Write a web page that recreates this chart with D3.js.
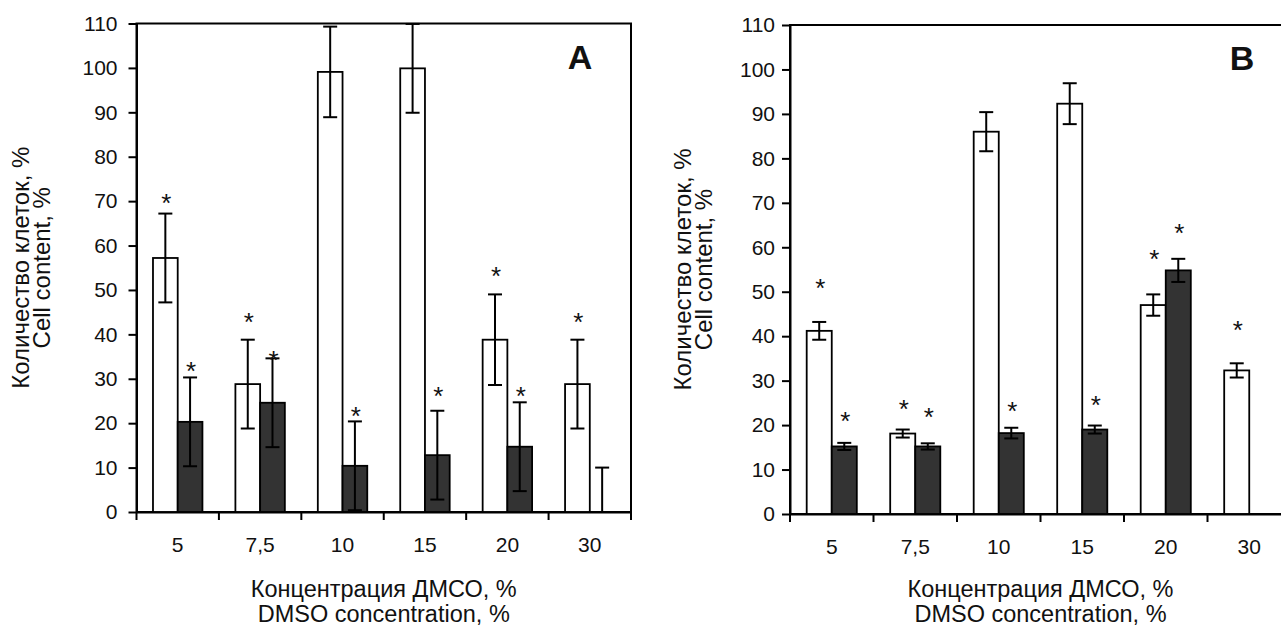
<!DOCTYPE html>
<html>
<head>
<meta charset="utf-8">
<script src="https://cdn.jsdelivr.net/npm/d3@7"></script>
<style>
  body { margin: 0; background: #fff; }
  text { font-family: Arial, "Liberation Sans", sans-serif; fill: #111; }
</style>
</head>
<body>
<script>
// categories (DMSO concentration, %)
var cats = ["5", "7,5", "10", "15", "20", "30"];
var yTicks = [0, 10, 20, 30, 40, 50, 60, 70, 80, 90, 100, 110];

// panel A
var aWhite    = [57.2, 28.8, 99.1, 99.9, 38.8, 28.8];
var aWhiteErr = [10, 10, 10.2, 10, 10.2, 10];
var aDark     = [20.3, 24.6, 10.4, 12.8, 14.7, 0];
var aDarkErr  = [10, 10, 10, 10, 10, 10];
var aWhiteStar = [71, 44.2, null, null, 54.4, 44.2];
var aDarkStar  = [33, 35.6, 23, 27.4, 27.4, null];

// panel B
var bWhite    = [41.2, 18.1, 86.0, 92.3, 47.0, 32.3];
var bWhiteErr = [2.0, 0.9, 4.4, 4.6, 2.4, 1.6];
var bDark     = [15.2, 15.2, 18.2, 19.0, 54.8, 0];
var bDarkErr  = [0.8, 0.7, 1.2, 0.9, 2.6, 0];
var bWhiteStar = [52.2, 25.0, null, null, 58.6, 42.8];
var bDarkStar  = [22.3, 23.2, 24.5, 25.9, 64.6, null];

var svg = d3.select("body").append("svg")
  .attr("width", 1281)
  .attr("height", 626);

function panel(opt) {
  var g = svg.append("g");
  var x = d3.scaleBand().domain(cats).range([opt.left, opt.right]);
  var y = d3.scaleLinear().domain([0, 110]).range([opt.bottom, opt.top]);
  var bw = x.bandwidth() * 0.3;
  var mid = function(c) { return x(c) + x.bandwidth() / 2; };

  // frame
  g.append("rect")
    .attr("x", opt.left).attr("y", y(110))
    .attr("width", opt.right - opt.left).attr("height", y(0) - y(110))
    .attr("fill", "none").attr("stroke", "#000").attr("stroke-width", 2);

  // white bars
  g.selectAll(".w").data(cats).enter().append("rect")
    .attr("x", function(c) { return mid(c) - bw; })
    .attr("y", function(c, i) { return y(opt.white[i]); })
    .attr("width", bw)
    .attr("height", function(c, i) { return y(0) - y(opt.white[i]); })
    .attr("fill", "#fff").attr("stroke", "#000").attr("stroke-width", 1.8);

  // dark bars (skip zero-height ones)
  g.selectAll(".d").data(cats.filter(function(c, i) { return opt.dark[i] > 0; })).enter().append("rect")
    .attr("x", function(c) { return mid(c); })
    .attr("y", function(c) { return y(opt.dark[cats.indexOf(c)]); })
    .attr("width", bw)
    .attr("height", function(c) { return y(0) - y(opt.dark[cats.indexOf(c)]); })
    .attr("fill", "#333").attr("stroke", "#000").attr("stroke-width", 1.8);

  // error bars
  function errs(vals, e, dx) {
    cats.forEach(function(c, i) {
      if (!e[i]) return;
      var cx = mid(c) + dx;
      var lo = Math.max(0, vals[i] - e[i]), hi = vals[i] + e[i];
      g.append("line").attr("x1", cx).attr("x2", cx)
        .attr("y1", y(lo)).attr("y2", y(hi))
        .attr("stroke", "#000").attr("stroke-width", 2);
      [lo, hi].forEach(function(v) {
        g.append("line").attr("x1", cx - 7).attr("x2", cx + 7)
          .attr("y1", y(v)).attr("y2", y(v))
          .attr("stroke", "#000").attr("stroke-width", 2);
      });
    });
  }
  errs(opt.white, opt.whiteErr, -bw / 2);
  errs(opt.dark, opt.darkErr, bw / 2);

  // asterisks
  function stars(s, dx) {
    cats.forEach(function(c, i) {
      if (s[i] == null) return;
      g.append("text")
        .attr("x", mid(c) + dx + 1)
        .attr("y", y(s[i]) + 15)
        .attr("text-anchor", "middle")
        .style("font-size", "26px")
        .text("*");
    });
  }
  stars(opt.whiteStar, -bw / 2);
  stars(opt.darkStar, bw / 2);

  // y axis
  var ya = g.append("g")
    .attr("transform", "translate(" + opt.left + ",0)")
    .call(d3.axisLeft(y).tickValues(yTicks).tickSize(8).tickPadding(opt.pad).tickSizeOuter(0));
  ya.selectAll("path,line").attr("stroke", "#000").attr("stroke-width", 2);
  ya.selectAll("text").style("font-size", "21px").attr("fill", "#111");

  // x axis: labels at band centres, ticks at band edges
  var xa = g.append("g")
    .attr("transform", "translate(0," + y(0) + ")")
    .call(d3.axisBottom(x).tickSize(0).tickPadding(25));
  xa.select(".domain").attr("stroke", "#000").attr("stroke-width", 2);
  xa.selectAll("text").style("font-size", "21px").attr("fill", "#111");
  var edges = cats.map(function(c) { return x(c); }).concat([x.range()[1]]);
  g.selectAll(".xt").data(edges).enter().append("line")
    .attr("x1", function(d) { return d; }).attr("x2", function(d) { return d; })
    .attr("y1", y(0)).attr("y2", y(0) + 8)
    .attr("stroke", "#000").attr("stroke-width", 2);

  // titles
  var cx = (opt.left + opt.right) / 2;
  g.append("text").attr("x", cx).attr("y", 597)
    .attr("text-anchor", "middle").style("font-size", "23.5px").text("Концентрация ДМСО, %");
  g.append("text").attr("x", cx).attr("y", 622)
    .attr("text-anchor", "middle").style("font-size", "23.5px").text("DMSO concentration, %");
  var cy = (opt.top + opt.bottom) / 2;
  g.append("text").attr("transform", "translate(" + (opt.left - opt.titleOff) + "," + cy + ") rotate(-90)")
    .attr("text-anchor", "middle").style("font-size", "24px").text("Количество клеток, %");
  g.append("text").attr("transform", "translate(" + (opt.left - opt.titleOff + 21) + "," + cy + ") rotate(-90)")
    .attr("text-anchor", "middle").style("font-size", "24px").text("Cell content, %");

  g.append("text").attr("x", opt.labelX).attr("y", y(110) + 45)
    .attr("text-anchor", "middle").style("font-size", "34px").style("font-weight", "bold")
    .text(opt.label);
}

panel({ left: 136.5, right: 631, top: 23.5, bottom: 512, pad: 11, titleOff: 108, label: "A", labelX: 580,
  white: aWhite, whiteErr: aWhiteErr, dark: aDark, darkErr: aDarkErr,
  whiteStar: aWhiteStar, darkStar: aDarkStar });
panel({ left: 790, right: 1291, top: 25, bottom: 514, pad: 7, titleOff: 99, label: "B", labelX: 1242,
  white: bWhite, whiteErr: bWhiteErr, dark: bDark, darkErr: bDarkErr,
  whiteStar: bWhiteStar, darkStar: bDarkStar });
</script>
</body>
</html>
